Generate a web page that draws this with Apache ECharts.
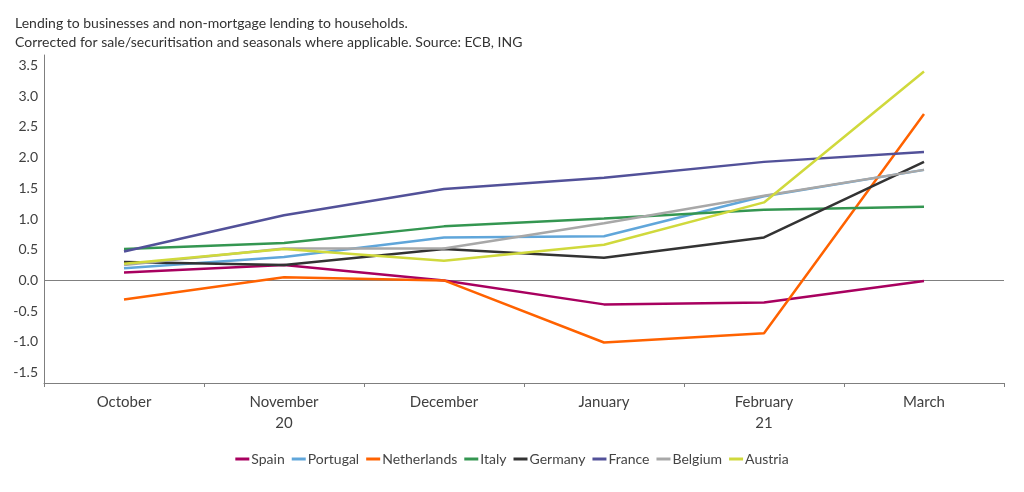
<!DOCTYPE html>
<html>
<head>
<meta charset="utf-8">
<script src="https://cdn.jsdelivr.net/npm/echarts@6/dist/echarts.min.js"></script>
<style>
  html, body { margin: 0; padding: 0; background: #fff; }
  #chart { width: 1024px; height: 492px; }
</style>
</head>
<body>
<div id="chart"></div>
<script>
var months = ['October', 'November\n20', 'December', 'January', 'February\n21', 'March'];
var yTicks = [-1.5, -1.0, -0.5, 0.0, 0.5, 1.0, 1.5, 2.0, 2.5, 3.0, 3.5];

var spain       = [0.13, 0.25, 0.00, -0.39, -0.36, -0.01];
var portugal    = [0.20, 0.38, 0.70, 0.72, 1.37, 1.80];
var netherlands = [-0.31, 0.05, 0.00, -1.01, -0.86, 2.71];
var italy       = [0.51, 0.61, 0.88, 1.01, 1.15, 1.20];
var germany     = [0.30, 0.25, 0.51, 0.37, 0.70, 1.93];
var france      = [0.47, 1.06, 1.49, 1.67, 1.93, 2.09];
var belgium     = [0.25, 0.52, 0.52, 0.93, 1.38, 1.80];
var austria     = [0.27, 0.51, 0.32, 0.58, 1.27, 3.40];

var names  = ['Spain', 'Portugal', 'Netherlands', 'Italy', 'Germany', 'France', 'Belgium', 'Austria'];
var values = [spain, portugal, netherlands, italy, germany, france, belgium, austria];
var colors = ['#a8005f', '#60a6da', '#ff6200', '#349651', '#333333', '#525199', '#a8a8a8', '#d0d93c'];

var font = 'Lato, "Open Sans", sans-serif';

var series = names.map(function(n, i) {
	var s = {
		name: n,
		type: 'line',
		data: values[i],
		symbol: 'none',
		lineStyle: { width: 2.5, color: colors[i] },
		itemStyle: { color: colors[i] },
		z: 3
	};
	if (i == 0) {
		s.markLine = {
			silent: true,
			symbol: 'none',
			label: { show: false },
			lineStyle: { color: '#808080', width: 1, type: 'solid' },
			data: [{ yAxis: 0 }],
			z: 1
		};
	}
	return s;
});

var chart = echarts.init(document.getElementById('chart'));
chart.setOption({
	animation: false,
	color: colors,
	title: {
		text: 'Lending to businesses and non-mortgage lending to households.\nCorrected for sale/securitisation and seasonals where applicable. Source: ECB, ING',
		left: 10,
		top: 9,
		textStyle: { fontFamily: font, fontSize: 14, fontWeight: 'normal', color: '#333', lineHeight: 19 }
	},
	grid: { left: 44, right: 20, top: 55, bottom: 109 },
	legend: {
		bottom: 21,
		left: 'center',
		icon: 'rect',
		itemWidth: 14,
		itemHeight: 3,
		itemGap: 7,
		textStyle: { fontFamily: font, fontSize: 14, color: '#444', padding: [0, 0, 0, -3] },
		data: names
	},
	xAxis: {
		type: 'category',
		data: months,
		boundaryGap: true,
		axisLine: { onZero: false, lineStyle: { color: '#7f7f7f' } },
		axisTick: { show: true, length: 4, lineStyle: { color: '#7f7f7f' } },
		axisLabel: { fontFamily: font, fontSize: 15, color: '#404040', lineHeight: 21, margin: 9 }
	},
	yAxis: {
		type: 'value',
		min: -1.67,
		max: 3.67,
		axisLine: { show: true, lineStyle: { color: '#7f7f7f' } },
		axisTick: { show: false },
		splitLine: { show: false },
		axisLabel: {
			customValues: yTicks,
			fontFamily: font,
			fontSize: 14,
			color: '#404040',
			margin: 6,
			formatter: function(v) { return v.toFixed(1); }
		}
	},
	series: series
});
</script>
</body>
</html>
